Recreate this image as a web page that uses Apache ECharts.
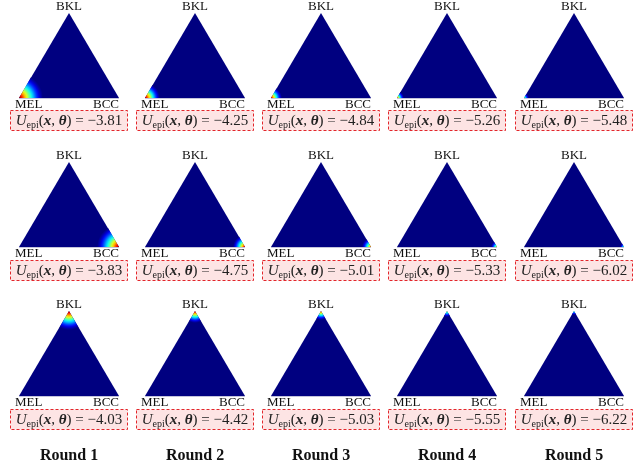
<!DOCTYPE html>
<html><head><meta charset="utf-8">
<script src="https://cdn.jsdelivr.net/npm/echarts@6/dist/echarts.min.js"></script>
<style>html,body{margin:0;padding:0;background:#fff}#c{width:637px;height:465px}</style>
</head><body><div id="c"></div>
<script>
// ---- data ----
const rounds = ['Round 1', 'Round 2', 'Round 3', 'Round 4', 'Round 5'];
const vertexNames = ['MEL', 'BCC', 'BKL'];
const rowHotCorner = [0, 1, 2]; // index into vertexNames: row 1 MEL, row 2 BCC, row 3 BKL
const uEpiMEL = [-3.81, -4.25, -4.84, -5.26, -5.48];
const uEpiBCC = [-3.83, -4.75, -5.01, -5.33, -6.02];
const uEpiBKL = [-4.03, -4.42, -5.03, -5.55, -6.22];
// extent of the hot spot (fraction of triangle side) and its peak level (0..1 of the colour scale)
const spotRadiusMEL = [0.24, 0.15, 0.11, 0.07, 0.05];
const spotRadiusBCC = [0.22, 0.12, 0.09, 0.06, 0.04];
const spotRadiusBKL = [0.19, 0.12, 0.09, 0.06, 0.04];
const spotPeakMEL = [1.0, 1.0, 0.95, 0.8, 0.55];
const spotPeakBCC = [1.0, 0.95, 0.8, 0.65, 0.5];
const spotPeakBKL = [1.0, 0.95, 0.85, 0.6, 0.5];

const uRows = [uEpiMEL, uEpiBCC, uEpiBKL];
const radRows = [spotRadiusMEL, spotRadiusBCC, spotRadiusBKL];
const peakRows = [spotPeakMEL, spotPeakBCC, spotPeakBKL];

// ---- layout ----
const H = Math.sqrt(3) / 2;
const colCenter = [69, 195, 321, 447, 574];
const rowTop = [13, 162, 311];
const triW = 100, triH = 85;
const boxTop = [110, 260, 409];
const NAVY = '#000080';
const SERIF = '"Liberation Serif", "DejaVu Serif", serif';

function clamp(v) { return Math.max(0, Math.min(1, v)); }
function jet(v) {
  const r = clamp(1.5 - Math.abs(4 * v - 3));
  const g = clamp(1.5 - Math.abs(4 * v - 2));
  const b = clamp(1.5 - Math.abs(4 * v - 1));
  return 'rgb(' + Math.round(r * 255) + ',' + Math.round(g * 255) + ',' + Math.round(b * 255) + ')';
}

function renderPanel(params, api) {
  const corner = api.value(0);
  const rad = api.value(1);
  const peak = api.value(2);
  const A = api.coord([0, 0]), B = api.coord([1, 0]), C = api.coord([0.5, H]);
  const P = [A, B, C][corner];
  const rpx = api.size([rad, 0])[0];
  const ang = [[-Math.PI / 3, 0], [Math.PI, 4 * Math.PI / 3], [Math.PI / 3, 2 * Math.PI / 3]][corner];
  const stops = [];
  for (let k = 0; k <= 12; k++) {
    const t = k / 12;
    stops.push({ offset: t, color: jet(peak * Math.pow(1 - t, 1.3)) });
  }
  return {
    type: 'group',
    children: [
      { type: 'polygon', shape: { points: [A, B, C] }, style: { fill: NAVY } },
      {
        type: 'sector',
        shape: { cx: P[0], cy: P[1], r0: 0, r: rpx, startAngle: ang[0], endAngle: ang[1], clockwise: true },
        style: { fill: { type: 'radial', x: P[0], y: P[1], r: rpx, colorStops: stops, global: true } }
      },
      { type: 'line', shape: { x1: A[0], y1: A[1] + 0.5, x2: B[0], y2: B[1] + 0.5 }, style: { stroke: '#c4c4dc', lineWidth: 1 } }
    ]
  };
}

const grids = [], xAxes = [], yAxes = [], series = [], graphics = [];
for (let r = 0; r < 3; r++) {
  for (let c = 0; c < 5; c++) {
    const i = r * 5 + c;
    const cx = colCenter[c];
    grids.push({ left: cx - triW / 2, top: rowTop[r], width: triW, height: triH });
    xAxes.push({ gridIndex: i, type: 'value', min: 0, max: 1, show: false });
    yAxes.push({ gridIndex: i, type: 'value', min: 0, max: H, show: false });
    series.push({
      type: 'custom', xAxisIndex: i, yAxisIndex: i, silent: true, animation: false,
      renderItem: renderPanel,
      data: [[rowHotCorner[r], radRows[r][c], peakRows[r][c]]]
    });
    const base = rowTop[r] + triH;
    const lbl = { fill: '#111', fontSize: 13, fontFamily: SERIF };
    graphics.push({ type: 'text', x: cx, y: rowTop[r] - 6, style: Object.assign({ text: vertexNames[2], align: 'center', verticalAlign: 'middle', textAlign: 'center', textVerticalAlign: 'middle' }, lbl) });
    graphics.push({ type: 'text', x: cx - 54, y: base + 7, style: Object.assign({ text: vertexNames[0], align: 'left', verticalAlign: 'middle', textAlign: 'left', textVerticalAlign: 'middle' }, lbl) });
    graphics.push({ type: 'text', x: cx + 50, y: base + 7, style: Object.assign({ text: vertexNames[1], align: 'right', verticalAlign: 'middle', textAlign: 'right', textVerticalAlign: 'middle' }, lbl) });
    graphics.push({
      type: 'rect', shape: { x: cx - 58.5, y: boxTop[r] + 0.5, width: 117, height: 20 },
      style: { fill: '#fde4e4', stroke: '#e3262b', lineWidth: 1, lineDash: [3, 2] }
    });
    const v = uRows[r][c];
    const vs = (v < 0 ? '\u2212' : '') + Math.abs(v).toFixed(2);
    graphics.push({
      type: 'text', x: cx, y: boxTop[r] + 11,
      style: {
        text: '{u|U}{s|epi}{n|(}{b|x}{n|, }{b|\u03B8}{n|) = ' + vs + '}',
        align: 'center', verticalAlign: 'middle', textAlign: 'center', textVerticalAlign: 'middle',
        fontFamily: SERIF, fontSize: 15, fill: '#222',
        rich: {
          u: { fontFamily: SERIF, fontSize: 15, fontStyle: 'italic', fill: '#222', lineHeight: 18 },
          s: { fontFamily: SERIF, fontSize: 10, fill: '#222', lineHeight: 12, verticalAlign: 'bottom' },
          n: { fontFamily: SERIF, fontSize: 15, fill: '#222', lineHeight: 18 },
          b: { fontFamily: SERIF, fontSize: 15, fontStyle: 'italic', fontWeight: 'bold', fill: '#222', lineHeight: 18 }
        }
      }
    });
  }
}
for (let c = 0; c < 5; c++) {
  graphics.push({
    type: 'text', x: colCenter[c], y: 456,
    style: { text: rounds[c], align: 'center', verticalAlign: 'middle', textAlign: 'center', textVerticalAlign: 'middle', fontFamily: SERIF, fontSize: 16, fontWeight: 'bold', fill: '#111' }
  });
}

const chart = echarts.init(document.getElementById('c'), null, { renderer: 'canvas' });
chart.setOption({
  animation: false,
  backgroundColor: '#fff',
  grid: grids, xAxis: xAxes, yAxis: yAxes, series: series,
  graphic: { elements: graphics }
});
</script>
</body></html>
